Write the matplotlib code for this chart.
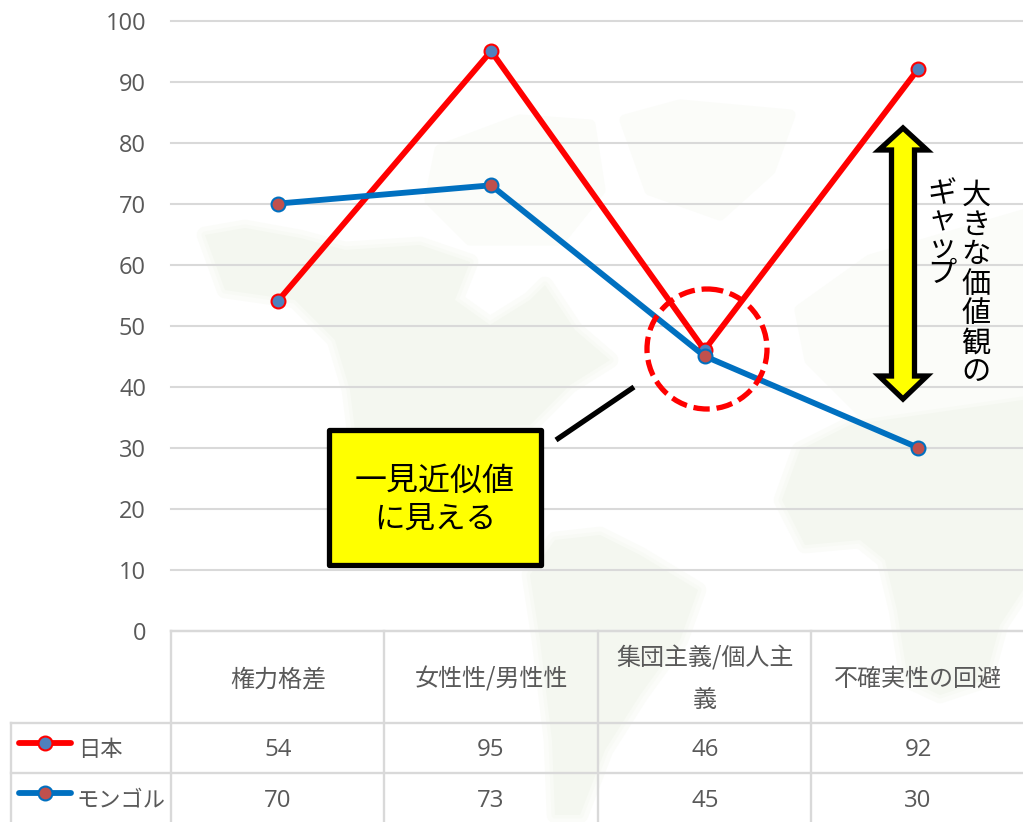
import matplotlib
matplotlib.use("Agg")
import matplotlib.pyplot as plt
from matplotlib.patches import Circle, Polygon, Rectangle

JP = ["Noto Sans CJK JP", "DejaVu Sans"]
plt.rcParams["font.family"] = JP

# values
categories = ["権力格差", "女性性/男性性", "集団主義/個人主\n義", "不確実性の回避"]
japan = [54, 95, 46, 92]
mongolia = [70, 73, 45, 30]
yticks = list(range(0, 101, 10))

W, H = 1023, 822
GREY = "#595959"
GRID = "#D9D9D9"
RED = "#FF0000"
BLUE = "#0070C0"

fig = plt.figure(figsize=(W / 100, H / 100), dpi=100)

# faint world map behind everything, in pixel coordinates
bg = fig.add_axes([0, 0, 1, 1], zorder=0)
bg.set_xlim(0, W)
bg.set_ylim(H, 0)
bg.axis("off")
land_main = [
    [(205, 235), (245, 228), (300, 238), (345, 250), (420, 245), (470, 262), (455, 300), (490, 325),
     (530, 300), (545, 285), (575, 330), (610, 360), (570, 385), (530, 425), (355, 430), (350, 390), (335, 340),
     (295, 300), (225, 290)],
    [(530, 575), (555, 540), (600, 535), (640, 555), (698, 590), (680, 640), (640, 695), (605, 750), (580, 815),
     (555, 815), (552, 740), (540, 640)],
    [(782, 500), (800, 450), (850, 425), (1023, 400), (1023, 590), (1000, 625), (985, 680), (940, 695), (908, 680),
     (897, 610), (885, 560), (860, 540), (805, 545)],
]
land_faint = [
    [(440, 150), (520, 120), (590, 125), (600, 190), (560, 240), (470, 240), (430, 200)],
    [(625, 120), (680, 105), (790, 115), (770, 170), (720, 215), (650, 190)],
    [(800, 310), (870, 260), (1023, 215), (1023, 400), (860, 410), (810, 360)],
]
for pts in land_faint:
    bg.add_patch(Polygon(pts, closed=True, fc="#FBFCF9", ec="#FBFCF9", lw=8, joinstyle="round"))
for pts in land_main:
    for lw, col in [(12, "#FBFCF9"), (5, "#F8FAF5"), (0, "#F4F7F0")]:
        bg.add_patch(Polygon(pts, closed=True, fc=col, ec=col, lw=lw, joinstyle="round"))

# chart area
ax = fig.add_axes([171 / W, 1 - 630.6 / H, (W - 171) / W, 610 / H], zorder=1)
ax.patch.set_alpha(0)
x = list(range(len(categories)))
ax.set_xlim(-0.5, -0.5 + (W - 171) / 213.4)
ax.set_ylim(0, 100)
ax.set_yticks(yticks)
ax.set_xticks([])
ax.tick_params(axis="y", length=0, pad=18, labelsize=17, labelcolor=GREY)
for lab in ax.get_yticklabels():
    lab.set_fontfamily("Open Sans")
ax.grid(axis="y", color=GRID, lw=1.5, clip_on=False)
ax.set_axisbelow(True)
for s in ax.spines.values():
    s.set_visible(False)
ax.plot(x, japan, color=RED, lw=4.2, marker="o", ms=10, mfc="#4F81BD", mec=RED, mew=1.5, clip_on=False)
ax.plot(x, mongolia, color=BLUE, lw=4.2, marker="o", ms=10, mfc="#C0504D", mec=BLUE, mew=1.5, clip_on=False)

# overlay for table and callouts, pixel coordinates
ov = fig.add_axes([0, 0, 1, 1], zorder=2)
ov.patch.set_alpha(0)
ov.set_xlim(0, W)
ov.set_ylim(H, 0)
ov.axis("off")

# table grid
ov.plot([171, W], [631, 631], color=GRID, lw=1.7)
for yy in [723, 773]:
    ov.plot([11, W], [yy, yy], color=GRID, lw=1.7)
ov.plot([11, 11], [723, H], color=GRID, lw=1.7)
for xx in [171, 384, 598, 811]:
    ov.plot([xx, xx], [631, H], color=GRID, lw=1.7)

centers = [278, 491, 705, 918]
for cx, cat in zip(centers, categories):
    ov.text(cx, 679, cat, ha="center", va="center", fontsize=17.3, color=GREY, linespacing=1.78)
for cx, a, b in zip(centers, japan, mongolia):
    ov.text(cx, 750, str(a), ha="center", va="center", fontsize=17.3, color=GREY, family="Open Sans")
    ov.text(cx, 800.5, str(b), ha="center", va="center", fontsize=17.3, color=GREY, family="Open Sans")

# legend keys inside the table
ov.plot([19, 71], [743, 743], color=RED, lw=4.2, solid_capstyle="round")
ov.plot([45], [743], marker="o", ms=10, mfc="#4F81BD", mec=RED, mew=1.5)
ov.text(78, 749, "日本", ha="left", va="center", fontsize=16, color=GREY)
ov.plot([19, 71], [793, 793], color=BLUE, lw=4.2, solid_capstyle="round")
ov.plot([45], [793], marker="o", ms=10, mfc="#C0504D", mec=BLUE, mew=1.5)
ov.text(76, 799.5, "モンゴル", ha="left", va="center", fontsize=16, color=GREY)

# dashed circle
ov.add_patch(Circle((707, 349), 60, fc="none", ec=RED, lw=3.8, ls=(0, (3.1, 1.3))))

# callout box
ov.add_patch(Rectangle((329, 429.5), 211.5, 135.5, fc="#FFFF00", ec="black", lw=3.8, joinstyle="round"))
ov.plot([556, 634], [440, 387], color="black", lw=3.8, solid_capstyle="butt")
ov.text(435, 481, "一見近似値", ha="center", va="center", fontsize=23, color="black")
ov.text(435, 519, "に見える", ha="center", va="center", fontsize=22, color="black")

# double arrow
cx = 903
arrow = [(cx, 128), (cx + 24, 150), (cx + 11.5, 150), (cx + 11.5, 376), (cx + 24, 376), (cx, 399),
         (cx - 24, 376), (cx - 11.5, 376), (cx - 11.5, 150), (cx - 24, 150)]
ov.add_patch(Polygon(arrow, closed=True, fc="#FFFF00", ec="black", lw=3.8, joinstyle="miter"))

# vertical text
ov.text(976, 181, "大\nき\nな\n価\n値\n観\nの", ha="center", va="top", fontsize=21, color="black", linespacing=0.98)
ov.text(942, 179, "ギ\nャ\nッ\nプ", ha="center", va="top", fontsize=21, color="black", linespacing=0.86)

fig.savefig("out.png", dpi=100)
